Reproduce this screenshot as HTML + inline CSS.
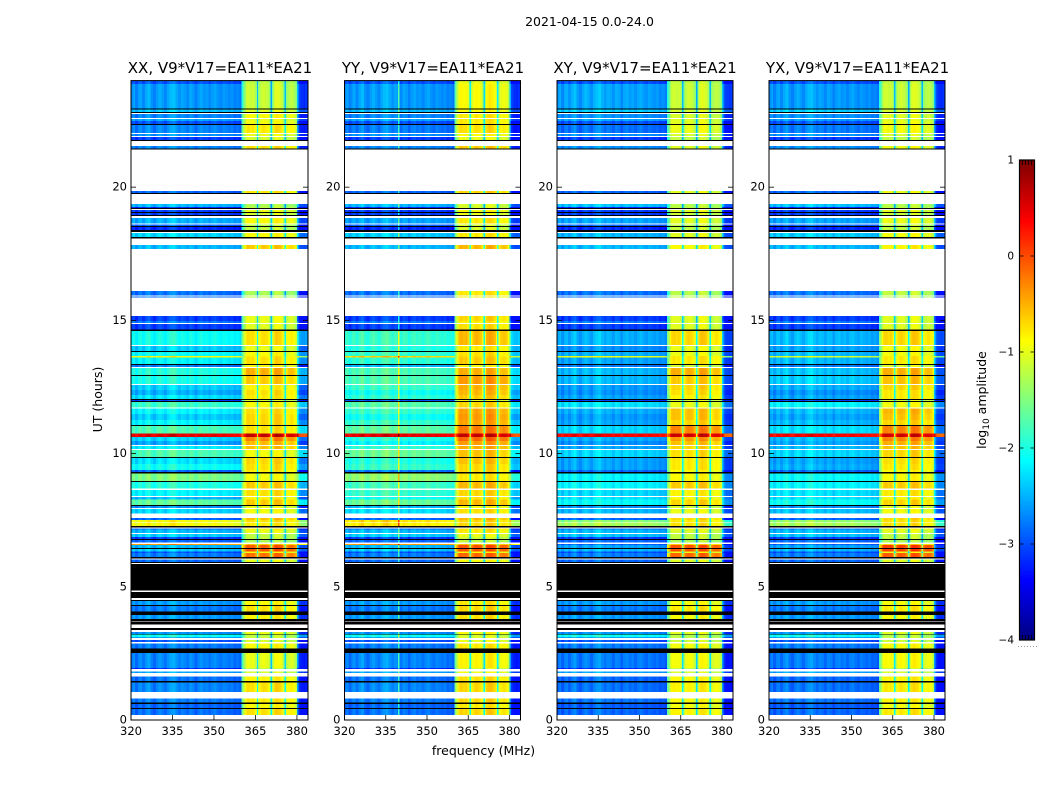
<!DOCTYPE html>
<html lang="en">
<head>
<meta charset="utf-8">
<title>2021-04-15 amplitude dynamic spectra</title>
<style>
html,body{margin:0;padding:0;background:#fff;width:1050px;height:800px;overflow:hidden}
svg{display:block}
text{font-family:"DejaVu Sans","Liberation Sans",sans-serif;fill:#000}
</style>
</head>
<body>
<svg id="figure" xmlns="http://www.w3.org/2000/svg" width="1050" height="800" viewBox="0 0 1050 800">
  <text x="589.5" y="26" text-anchor="middle" font-size="12.5">2021-04-15 0.0-24.0</text>
  <text x="220" y="73" text-anchor="middle" font-size="15">XX, V9*V17=EA11*EA21</text>
  <text x="433" y="73" text-anchor="middle" font-size="15">YY, V9*V17=EA11*EA21</text>
  <text x="645" y="73" text-anchor="middle" font-size="15">XY, V9*V17=EA11*EA21</text>
  <text x="857.5" y="73" text-anchor="middle" font-size="15">YX, V9*V17=EA11*EA21</text>
  <text x="483.5" y="755" text-anchor="middle" font-size="12.5">frequency (MHz)</text>
  <text transform="translate(102,399.5) rotate(-90)" text-anchor="middle" font-size="12.5">UT (hours)</text>
  <text transform="translate(986,400) rotate(-90)" text-anchor="middle" font-size="12.5">log<tspan font-size="9" dy="3">10</tspan><tspan dy="-3"> amplitude</tspan></text>
  <g id="panels"></g>
  <g id="colorbar"></g>
</svg>
<script>
// Row boundaries (UT hours, top of each row, descending) and row state:
// D = data, B = flagged (black), W = no data (white).
const rowTopHours = [
  24.00,23.87,22.95,22.92,22.82,22.78,22.75,22.60,22.56,22.49,
  22.37,22.33,22.03,22.00,21.92,21.88,21.77,21.73,21.55,21.45,
  21.41,19.86,19.78,19.74,19.37,19.26,19.22,19.18,19.14,19.07,
  19.03,18.96,18.92,18.84,18.64,18.60,18.54,18.51,18.39,18.32,
  18.28,18.13,18.07,17.83,17.68,16.10,15.93,15.90,15.86,15.17,
  14.98,14.90,14.86,14.66,14.60,14.08,14.04,13.85,13.81,13.66,
  13.61,13.36,13.33,13.25,13.21,12.95,12.91,12.61,12.58,12.39,
  12.20,12.05,12.01,11.97,11.94,11.73,11.69,11.49,11.26,11.07,
  11.04,10.76,10.62,10.47,10.32,10.29,10.17,10.14,9.87,9.83,
  9.61,9.38,9.31,9.25,8.97,8.93,8.69,8.64,8.41,8.37,
  8.28,8.07,8.03,7.96,7.92,7.75,7.58,7.51,7.43,7.41,
  7.28,7.23,7.18,7.15,7.02,6.98,6.87,6.79,6.76,6.67,6.61,
  6.57,6.46,6.42,6.33,6.27,6.12,6.06,6.02,5.93,5.89,
  5.86,4.87,4.81,4.57,4.51,4.47,4.32,4.28,4.07,3.94,
  3.80,3.70,3.67,3.58,3.45,3.38,3.31,3.23,3.20,3.10,
  3.07,3.01,2.93,2.87,2.68,2.52,1.95,1.91,1.82,1.77,
  1.63,1.46,1.40,1.05,0.80,0.66,0.60,0.45,0.41,0.19
];
const rowStates = (
  "DDBDBWDWDD"+"BDWDWDBWDB"+"WDBWDDBWDB"+"DBWDWDBDBW"+"DBWDWDWDWD"+
  "DWDBDWDBDD"+"DBDWDBDWDD"+"DBDBDWDDDB"+"DDDDWDWDBD"+"DDBDBDWDWD"+
  "DBDWDWDDWD"+"BWDDWDDBDWD"+"DBDDDBWDBW"+"BWBWBDBDBD"+"BWBWBWDBDD"+
  "WDWDBDDWDW"+"DBDWDBDBDW"
);

// log10 amplitude of each data row, 320-360 MHz part.
const lowXX = [
  -3.0,-2.65,-2.45,-2.75,-2.6,-3.0,-2.75,-2.7,-3.1,-2.75,
  -2.9,-2.5,-3.2,-3.1,-3.1,-2.55,-2.9,-3.2,-2.35,-2.5,
  -2.85,-2.85,-3.1,-2.8,-3.1,-2.1,-2.4,-2.15,-0.9,-2.2,
  -2.8,-2.0,-2.05,-2.4,-2.55,-2.3,-3.1,-1.9,-2.2,-2.4,
  -2.2,-1.8,0.45,-2.35,-2.6,-2.25,-1.8,-2.3,-2.1,-2.9,
  -1.55,-2.0,-2.2,-2.5,-1.7,-2.7,-2.35,-2.9,-0.95,-0.95,
  -2.9,-2.5,-2.4,-3.1,-2.9,-0.4,-2.5,-2.4,-3.0,-2.8,
  -2.9,-2.65,-2.8,-2.65,-2.7,-2.1,-3.0,-3.0,-2.8,-2.75,
  -3.2,-2.6,-2.85,-2.75,-2.8,-2.9,-2.85
];
const lowYY = [
  -3.0,-2.65,-2.5,-2.75,-2.6,-3.0,-2.8,-2.7,-3.1,-2.75,
  -2.9,-2.5,-3.2,-3.1,-3.1,-2.6,-2.9,-3.2,-2.4,-2.5,
  -2.85,-2.85,-3.1,-2.8,-3.1,-1.9,-2.0,-1.9,-0.7,-1.95,
  -2.5,-1.8,-1.8,-1.9,-2.1,-1.95,-3.0,-1.75,-1.9,-2.1,
  -1.9,-1.7,0.45,-2.0,-2.2,-1.95,-1.65,-2.0,-1.9,-2.8,
  -1.45,-1.85,-1.9,-2.1,-1.65,-2.5,-2.3,-2.9,-0.8,-0.85,
  -2.9,-2.5,-2.4,-3.1,-2.9,-0.4,-2.5,-2.4,-3.0,-2.8,
  -2.9,-2.65,-2.8,-2.65,-2.7,-2.1,-3.0,-3.0,-2.8,-2.75,
  -3.2,-2.6,-2.85,-2.75,-2.8,-2.9,-2.85
];
const lowXY = [
  -3.0,-2.6,-2.4,-2.7,-2.6,-3.0,-2.85,-2.7,-3.1,-2.7,
  -2.9,-2.45,-3.2,-3.1,-3.1,-2.6,-2.9,-3.2,-2.5,-2.5,
  -2.85,-2.85,-3.1,-2.8,-3.1,-2.55,-2.7,-2.55,-1.0,-2.6,
  -2.8,-2.5,-2.5,-2.65,-2.7,-2.6,-3.1,-2.3,-2.55,-2.65,
  -2.6,-2.35,0.35,-2.55,-2.7,-2.6,-2.35,-2.6,-2.6,-2.9,
  -2.2,-2.2,-2.35,-2.3,-2.15,-2.7,-2.5,-2.9,-1.5,-1.35,
  -2.85,-2.5,-2.45,-3.1,-2.9,-2.9,-2.6,-2.5,-3.0,-2.8,
  -2.9,-2.65,-2.8,-2.65,-2.7,-2.1,-3.0,-3.0,-2.8,-2.8,
  -3.2,-2.6,-2.9,-2.85,-2.85,-2.95,-2.9
];
const lowYX = [
  -3.0,-2.65,-2.4,-2.7,-2.65,-3.0,-2.8,-2.7,-3.1,-2.7,
  -2.9,-2.45,-3.2,-3.1,-3.1,-2.6,-2.9,-3.2,-2.4,-2.5,
  -2.85,-2.85,-3.1,-2.8,-3.1,-2.5,-2.6,-2.5,-1.1,-2.5,
  -2.8,-2.45,-2.4,-2.55,-2.7,-2.6,-3.1,-2.2,-2.5,-2.6,
  -2.5,-2.3,0.35,-2.5,-2.6,-2.5,-2.35,-2.6,-2.55,-2.9,
  -2.15,-2.2,-2.3,-2.3,-2.1,-2.7,-2.45,-2.9,-1.45,-1.35,
  -2.85,-2.5,-2.45,-3.1,-2.9,-2.9,-2.6,-2.5,-3.0,-2.8,
  -2.9,-2.65,-2.8,-2.65,-2.7,-2.1,-3.0,-3.0,-2.8,-2.8,
  -3.2,-2.6,-2.9,-2.85,-2.85,-2.95,-2.9
];

// log10 amplitude of each data row, 360-380 MHz part.
const highXX = [
  -1.0,-0.95,-0.85,-0.7,-0.8,-0.75,-0.6,-0.8,-0.9,-0.55,
  -0.6,-1.1,-1.0,-0.8,-0.9,-0.7,-1.0,-1.0,-0.7,-0.45,
  -1.1,-1.0,-0.8,-0.8,-0.85,-0.55,-0.8,-0.7,-0.6,-0.55,
  -0.7,-0.3,-0.45,-0.65,-0.55,-0.6,-0.9,-0.7,-0.55,-0.5,
  -0.5,-0.55,0.85,-0.1,-0.35,-0.4,-0.75,-0.5,-0.55,-0.6,
  -0.75,-0.45,-0.55,-0.65,-0.45,-0.8,-0.75,-0.4,-0.55,-0.6,
  -0.6,-0.8,-1.0,-1.0,-1.1,-0.4,0.1,0.15,-0.75,0.0,
  -0.8,-0.7,-0.55,-0.65,-0.8,-1.0,-0.9,-0.9,-0.7,-0.8,
  -1.0,-0.9,-0.65,-0.55,-0.6,-0.7,-0.55
];
const highYY = [
  -0.8,-0.7,-0.7,-0.6,-0.6,-0.6,-0.55,-0.7,-0.8,-0.45,
  -0.5,-0.9,-0.9,-0.7,-0.8,-0.6,-0.9,-0.9,-0.6,-0.35,
  -0.6,-0.6,-0.5,-0.6,-0.55,-0.35,-0.6,-0.55,-0.5,-0.45,
  -0.7,-0.3,-0.2,-0.3,-0.35,-0.45,-0.8,-0.5,-0.25,-0.2,
  -0.25,-0.05,0.85,0.05,-0.2,-0.3,-0.4,-0.4,-0.5,-0.5,
  -0.6,-0.35,-0.5,-0.55,-0.35,-0.7,-0.55,-0.35,-0.5,-0.5,
  -0.5,-0.6,-0.8,-0.95,-1.0,-0.35,0.15,0.15,-0.7,0.05,
  -0.7,-0.6,-0.5,-0.55,-0.7,-0.9,-0.8,-0.8,-0.6,-0.65,
  -0.9,-0.75,-0.55,-0.5,-0.5,-0.6,-0.5
];
const highXY = [
  -1.0,-0.95,-0.9,-0.9,-0.85,-0.85,-0.8,-0.9,-1.0,-0.85,
  -0.85,-1.05,-1.0,-0.85,-0.95,-0.85,-1.0,-1.0,-0.85,-0.7,
  -1.05,-1.0,-0.85,-0.85,-0.85,-0.5,-0.8,-0.8,-0.6,-0.6,
  -0.9,-0.3,-0.45,-0.5,-0.55,-0.65,-0.9,-0.8,-0.4,-0.4,
  -0.5,-0.1,0.8,-0.2,-0.4,-0.5,-0.55,-0.6,-0.6,-0.7,
  -0.7,-0.45,-0.65,-0.7,-0.5,-0.9,-0.8,-0.5,-0.6,-0.55,
  -0.65,-0.9,-1.0,-1.0,-1.1,-0.45,0.15,0.15,-0.8,0.05,
  -0.85,-0.75,-0.6,-0.7,-0.85,-1.05,-0.95,-0.95,-0.75,-0.75,
  -1.0,-0.9,-0.7,-0.65,-0.7,-0.75,-0.65
];
const highYX = [
  -1.0,-0.95,-0.9,-0.85,-0.85,-0.8,-0.75,-0.9,-1.0,-0.75,
  -0.8,-1.05,-1.0,-0.85,-0.95,-0.8,-1.0,-1.0,-0.75,-0.65,
  -1.0,-1.0,-0.85,-0.85,-0.85,-0.5,-0.75,-0.75,-0.6,-0.6,
  -0.85,-0.3,-0.4,-0.5,-0.6,-0.6,-0.9,-0.75,-0.35,-0.4,
  -0.5,-0.1,0.8,-0.1,-0.3,-0.4,-0.5,-0.55,-0.6,-0.7,
  -0.7,-0.45,-0.6,-0.7,-0.5,-0.85,-0.75,-0.5,-0.55,-0.55,
  -0.65,-0.85,-1.0,-1.0,-1.1,-0.45,0.25,0.25,-0.8,0.1,
  -0.85,-0.75,-0.6,-0.7,-0.85,-1.05,-0.95,-0.95,-0.7,-0.7,
  -1.0,-0.9,-0.65,-0.6,-0.65,-0.75,-0.6
];

// Per-channel offset (0.5 MHz channels, 320 to 384 MHz).
const channelOffsets = [
  -0.05,0.05,0.1,-0.1,-0.1,0.05,0.1,0.1,-0.05,-0.05,
  0.1,0.1,0.2,0.2,0,0,-0.1,-0.1,0.05,0.05,
  0.15,0.15,0.05,0.05,-0.05,-0.05,0.1,0.1,0.2,0.2,
  0.25,0.25,0.1,0.1,0,0,0.1,0.1,0.05,0.05,
  -0.05,-0.05,0.1,0.1,0.05,0.05,-0.1,-0.1,0.05,0.05,
  0.1,0.1,0,0,0.05,0.05,-0.05,-0.05,0.05,0.05,
  0.1,0.1,0,0,-0.05,-0.05,0.05,0.05,0,0,
  -0.05,-0.05,0,0,-0.1,-0.1,-0.05,-0.05,-0.1,-0.15,
  -1.0,-0.7,-0.4,-0.2,-0.15,-0.15,-0.2,-0.2,-0.15,-0.25,
  -0.45,-1.5,-0.5,-0.25,-0.2,-0.15,-0.15,-0.2,-0.2,-0.3,
  -0.5,-1.6,-0.6,-0.15,-0.1,-0.05,-0.1,-0.1,-0.15,-0.25,
  -0.5,-1.5,-0.5,-0.3,-0.3,-0.25,-0.25,-0.3,-0.35,-0.55,
  0.2,-0.35,-0.45,-0.5,-0.5,-0.55,-0.45,-0.5
];
const yySpurChannels = [39];
const yySpurBoost = [0.9];

// Axis ticks and colour-scale range.
const freqTicks = [320,335,350,365,380];
const hourTicks = [0,5,10,15,20];
const colorTicks = [1,0,-1,-2,-3,-4];
const colorMin = -4;
const colorMax = 1;
const freqMin = 320;
const freqMax = 384;
const hourMax = 24;

const SVGNS = 'http://www.w3.org/2000/svg';
const panelsGroup = document.getElementById('panels');
const colorbarGroup = document.getElementById('colorbar');
const plotTop = 80.6;
const plotBottom = 720;

function makeNode(tag, parent, attrs) {
  const el = document.createElementNS(SVGNS, tag);
  for (const k in attrs) el.setAttribute(k, attrs[k]);
  parent.appendChild(el);
  return el;
}
function yOfHour(h) {
  return plotBottom - (h / hourMax) * (plotBottom - plotTop);
}
function xOfFreq(f, left, right) {
  return left + ((f - freqMin) / (freqMax - freqMin)) * (right - left);
}
function clip01(v) {
  return Math.max(0, Math.min(1, v));
}
function colorIndex(v) {
  const t = clip01((v - colorMin) / (colorMax - colorMin));
  return Math.min(255, Math.floor(t * 256));
}
function jetColor(idx) {
  const t = idx / 255;
  const r = Math.round(255 * clip01(1.5 - Math.abs(4 * t - 3)));
  const g = Math.round(255 * clip01(1.5 - Math.abs(4 * t - 2)));
  const b = Math.round(255 * clip01(1.5 - Math.abs(4 * t - 1)));
  return 'rgb(' + r + ',' + g + ',' + b + ')';
}
function channelValue(ch, low, high, spurs, boosts) {
  const freq = freqMin + ch * 0.5;
  const base = (freq >= 360 && freq < 380) ? high : low;
  let v = base + channelOffsets[ch];
  if (freq >= 380) v = Math.max(v, -3.3);
  const s = spurs.indexOf(ch);
  if (s >= 0) v += boosts[s];
  return v;
}

function drawPanel(name, left, right, lows, highs, spurs, boosts) {
  const g = makeNode('g', panelsGroup, {});
  
  
  const cells = makeNode('g', g, {'shape-rendering': 'crispEdges'});
  
  

  let dataIdx = 0;
  for (let r = 0; r < rowTopHours.length; r++) {
    const yA = yOfHour(rowTopHours[r]);
    const nextHour = r + 1 < rowTopHours.length ? rowTopHours[r + 1] : 0;
    const yB = yOfHour(nextHour);
    const state = rowStates[r];
    if (state === 'W') continue;
    if (state === 'B') {
      const flag = makeNode('rect', cells, {x: left, y: yA, width: right - left, height: yB - yA, fill: '#000'});
      
      
      continue;
    }
    const low = lows[dataIdx];
    const high = highs[dataIdx];
    dataIdx++;
    let start = 0;
    let runColor = colorIndex(channelValue(0, low, high, spurs, boosts));
    for (let c = 1; c <= channelOffsets.length; c++) {
      const idx = c < channelOffsets.length ? colorIndex(channelValue(c, low, high, spurs, boosts)) : -1;
      if (idx !== runColor) {
        const x0 = xOfFreq(freqMin + start * 0.5, left, right);
        const x1 = xOfFreq(freqMin + c * 0.5, left, right);
        const cell = makeNode('rect', cells, {x: x0, y: yA, width: x1 - x0, height: yB - yA, fill: jetColor(runColor)});
        
        
        start = c;
        runColor = idx;
      }
    }
  }

  const frame = makeNode('rect', g, {x: left, y: plotTop, width: right - left, height: plotBottom - plotTop, fill: 'none', stroke: '#000', 'stroke-width': 1});
  
  

  hourTicks.forEach(function (h) {
    const y = yOfHour(h);
    const t1 = makeNode('line', g, {x1: left, x2: left + 5, y1: y, y2: y, stroke: '#000', 'stroke-width': 0.8});
    
    
    const t2 = makeNode('line', g, {x1: right - 5, x2: right, y1: y, y2: y, stroke: '#000', 'stroke-width': 0.8});
    
    
    const lab = makeNode('text', g, {x: left - 4, y: y + 3.5, 'text-anchor': 'end', 'font-size': 11.5});
    
    
    lab.textContent = String(h);
  });
  freqTicks.forEach(function (f) {
    const x = xOfFreq(f, left, right);
    const t1 = makeNode('line', g, {x1: x, x2: x, y1: plotBottom, y2: plotBottom - 5, stroke: '#000', 'stroke-width': 0.8});
    
    
    const lab = makeNode('text', g, {x: x, y: plotBottom + 15, 'text-anchor': 'middle', 'font-size': 11.5});
    
    
    lab.textContent = String(f);
  });
}

drawPanel('xx', 131, 308, lowXX, highXX, [], []);
drawPanel('yy', 344.5, 520.5, lowYY, highYY, yySpurChannels, yySpurBoost);
drawPanel('xy', 557, 733, lowXY, highXY, [], []);
drawPanel('yx', 769, 945, lowYX, highYX, [], []);

(function drawColorbar() {
  const left = 1019.5, right = 1034.5, top = 160, bottom = 640;
  const yOfValue = function (v) {
    return bottom - ((v - colorMin) / (colorMax - colorMin)) * (bottom - top);
  };
  const ramp = makeNode('g', colorbarGroup, {'shape-rendering': 'crispEdges'});
  
  
  for (let i = 0; i < 256; i++) {
    const vLow = colorMin + (i / 256) * (colorMax - colorMin);
    const vHigh = colorMin + ((i + 1) / 256) * (colorMax - colorMin);
    const yTop = yOfValue(vHigh);
    const step = makeNode('rect', ramp, {x: left, y: yTop, width: right - left, height: yOfValue(vLow) - yTop + 0.6, fill: jetColor(i)});
    
    
  }
  const frame = makeNode('rect', colorbarGroup, {x: left, y: top, width: right - left, height: bottom - top, fill: 'none', stroke: '#000', 'stroke-width': 1.2});
  
  
  colorTicks.forEach(function (v) {
    const y = yOfValue(v);
    const a = makeNode('line', colorbarGroup, {x1: left, x2: left + 4, y1: y, y2: y, stroke: '#000', 'stroke-width': 0.8});
    
    
    const b = makeNode('line', colorbarGroup, {x1: right - 4, x2: right, y1: y, y2: y, stroke: '#000', 'stroke-width': 0.8});
    
    
    const lab = makeNode('text', colorbarGroup, {x: 1014, y: y + 3.5, 'text-anchor': 'end', 'font-size': 10.5});
    
    
    lab.textContent = v < 0 ? '\u2212' + Math.abs(v) : String(v);
  });
  for (let k = 1; k <= 4; k++) {
    const x = left + (k * (right - left)) / 5;
    const a = makeNode('line', colorbarGroup, {x1: x, x2: x, y1: top, y2: top + 5, stroke: '#000', 'stroke-width': 0.8});
    
    
    const b = makeNode('line', colorbarGroup, {x1: x, x2: x, y1: bottom, y2: bottom - 5, stroke: '#000', 'stroke-width': 0.8});
    
    
  }
  for (let k = 0; k < 7; k++) {
    const dot = makeNode('rect', colorbarGroup, {x: 1018 + k * 3, y: 646, width: 1, height: 1, fill: '#999'});
    
    
  }
})();
</script>
</body>
</html>
